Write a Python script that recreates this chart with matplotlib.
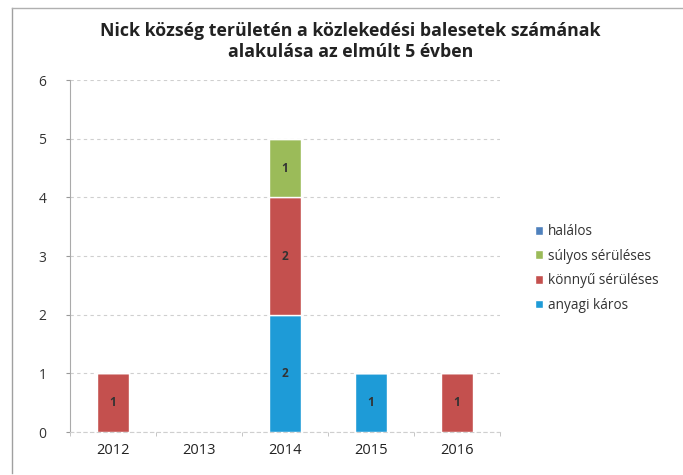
import numpy as np
import matplotlib
matplotlib.use("Agg")
import matplotlib.pyplot as plt
from matplotlib.lines import Line2D

plt.rcParams['font.family'] = ['Open Sans', 'DejaVu Sans']

years = ["2012", "2013", "2014", "2015", "2016"]
anyagi = [0, 0, 2, 1, 0]
konnyu = [1, 0, 2, 0, 1]
sulyos = [0, 0, 1, 0, 0]
halalos = [0, 0, 0, 0, 0]

series = [
    ("anyagi káros", anyagi, "#1E9BD7"),
    ("könnyű sérüléses", konnyu, "#C4504E"),
    ("súlyos sérüléses", sulyos, "#9BBB59"),
    ("halálos", halalos, "#4F81BD"),
]

fig = plt.figure(figsize=(6.83, 4.75), dpi=100)
ax = fig.add_axes([0.1025, 0.0905, 0.6295, 0.741])

# chart frame (only left and top edges visible in the scan)
fig.lines.append(Line2D([0.018, 0.018], [0.005, 0.983], transform=fig.transFigure,
                        color="#a0a0a0", lw=1.0))
fig.lines.append(Line2D([0.018, 1.0], [0.983, 0.983], transform=fig.transFigure,
                        color="#b0b0b0", lw=1.0))

x = np.arange(len(years))
bottom = np.zeros(len(years))
handles = []
for name, vals, col in series:
    vals = np.array(vals, dtype=float)
    bars = ax.bar(x, vals, 0.37, bottom=bottom, color=col, edgecolor="white",
                  linewidth=1.0, label=name, zorder=3)
    for xi, v, b in zip(x, vals, bottom):
        if v > 0:
            ax.text(xi, b + v / 2, str(int(v)), ha="center", va="center",
                    fontsize=8.5, fontweight="bold", color="#333333", zorder=4)
    bottom += vals
    handles.append(bars)

ax.set_xlim(-0.5, 4.5)
ax.set_ylim(0, 6)
ax.set_yticks(range(7))
ax.set_xticks(x)
ax.set_xticklabels(years)
ax.set_xticks(np.arange(-0.5, 5, 1), minor=True)
ax.tick_params(axis="y", length=3, color="#999999", labelsize=10, labelcolor="#333333", pad=14)
ax.tick_params(axis="x", which="major", length=0, labelsize=10.5, labelcolor="#222222", pad=8)
ax.tick_params(axis="x", which="minor", length=3, color="#bbbbbb")
ax.grid(axis="y", color="#cfcfcf", linestyle=(0, (3, 3)), lw=0.8, zorder=0)
for s in ["top", "right"]:
    ax.spines[s].set_visible(False)
ax.spines["left"].set_color("#aaaaaa")
ax.spines["bottom"].set_color("#cfcfcf")
ax.spines["bottom"].set_linestyle((0, (3, 3)))

leg_h = handles[::-1]
leg_l = [s[0] for s in series][::-1]
fig.legend(leg_h, leg_l, loc="center left", bbox_to_anchor=(0.765, 0.435),
           frameon=False, fontsize=9.8, handlelength=0.6, handleheight=0.6,
           handletextpad=0.4, labelspacing=0.7, labelcolor="#333333")

fig.text(0.513, 0.912, "Nick község területén a közlekedési balesetek számának\nalakulása az elmúlt 5 évben",
         ha="center", va="center", fontsize=12.8, fontweight="bold", color="#222222",
         linespacing=1.2)

fig.savefig("out.png", dpi=100)
